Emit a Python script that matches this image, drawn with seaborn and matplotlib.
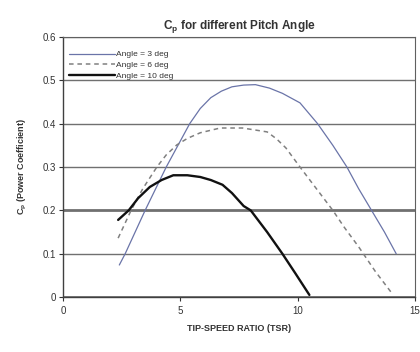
import matplotlib
matplotlib.use("Agg")
import matplotlib.pyplot as plt
import seaborn as sns
import pandas as pd

tsr_3 = [2.4, 2.65, 3.5, 4.4, 5.4, 5.85, 6.3, 6.75, 7.2, 7.7, 8.2, 8.8, 9.35, 10.1, 10.85, 11.5, 12.1, 12.6, 13.15, 13.7, 14.2]
cp_3 = [0.074, 0.10, 0.20, 0.30, 0.40, 0.435, 0.46, 0.475, 0.485, 0.489, 0.49, 0.482, 0.47, 0.448, 0.40, 0.35, 0.30, 0.25, 0.20, 0.15, 0.10]
tsr_6 = [2.35, 2.9, 3.4, 4.0, 4.4, 4.85, 5.3, 5.85, 6.7, 7.65, 8.7, 9.1, 9.5, 10.1, 10.8, 11.5, 12.0, 12.6, 13.3, 14.0]
cp_6 = [0.136, 0.20, 0.25, 0.30, 0.328, 0.351, 0.366, 0.379, 0.39, 0.39, 0.381, 0.365, 0.344, 0.30, 0.25, 0.20, 0.16, 0.116, 0.06, 0.01]
tsr_10 = [2.35, 2.8, 3.2, 3.7, 4.2, 4.7, 5.3, 5.85, 6.3, 6.8, 7.2, 7.7, 8.0, 8.7, 9.35, 9.9, 10.5]
cp_10 = [0.178, 0.20, 0.228, 0.254, 0.270, 0.281, 0.281, 0.277, 0.270, 0.259, 0.240, 0.21, 0.20, 0.15, 0.10, 0.055, 0.005]
labels = ["Angle = 3 deg", "Angle = 6 deg", "Angle = 10 deg"]
y_ticks = [0, 0.1, 0.2, 0.3, 0.4, 0.5, 0.6]
y_tick_labels = ["0", "0.1", "0.2", "0.3", "0.4", "0.5", "0.6"]
x_ticks = [0, 5, 10, 15]

sns.set_style("white")
plt.rcParams['font.family'] = ['Liberation Sans', 'DejaVu Sans']

fig = plt.figure(figsize=(4.2, 3.52), dpi=100)
ax = fig.add_axes([0.15, 0.156, 0.838, 0.739])

# gridlines
for y in y_ticks:
    lw = 2.0 if y in (0, 0.2) else 1.0
    ax.axhline(y, color="#707070", lw=lw, zorder=1)

df3 = pd.DataFrame({"x": tsr_3, "y": cp_3})
df6 = pd.DataFrame({"x": tsr_6, "y": cp_6})
df10 = pd.DataFrame({"x": tsr_10, "y": cp_10})
sns.lineplot(data=df3, x="x", y="y", ax=ax, color="#6a74a8", lw=0.9, label=labels[0], zorder=3)
sns.lineplot(data=df6, x="x", y="y", ax=ax, color="#808080", lw=1.1, ls=(0, (3, 2.5)), label=labels[1], zorder=3)
sns.lineplot(data=df10, x="x", y="y", ax=ax, color="#111111", lw=1.7, label=labels[2], zorder=3)

ax.set_xlim(0, 15)
ax.set_ylim(0, 0.6)
ax.set_xticks(x_ticks)
ax.set_yticks(y_ticks)
ax.set_yticklabels(y_tick_labels)
ax.tick_params(axis="both", labelsize=7, colors="#333333", length=3, direction="out", width=0.8)
ax.tick_params(axis="y", pad=2)
ax.xaxis.set_ticks_position("bottom")
ax.yaxis.set_ticks_position("left")
for s in ["top", "right"]:
    ax.spines[s].set_color("#606060")
    ax.spines[s].set_linewidth(0.8)
ax.spines["left"].set_color("#404040")
ax.spines["bottom"].set_color("#404040")
ax.spines["left"].set_linewidth(1.0)
ax.spines["bottom"].set_linewidth(1.0)

ax.set_xlabel("TIP-SPEED RATIO (TSR)", fontsize=6.5, fontweight="bold", color="#333333", labelpad=6)
ax.set_ylabel("C$_\\mathregular{p}$ (Power Coefficient)", fontsize=6.5, fontweight="bold", color="#333333", labelpad=10)
ax.set_title("C$_\\mathregular{p}$ for different Pitch Angle", fontsize=8.5, fontweight="bold", color="#333333", pad=6)

leg = ax.legend(loc="upper left", frameon=False, fontsize=6, handlelength=5.5, handletextpad=0.2,
                labelspacing=0.35, borderaxespad=0.3, bbox_to_anchor=(0.0, 0.97))
for t in leg.get_texts():
    t.set_color("#333333")

fig.savefig("out.png", dpi=100)
